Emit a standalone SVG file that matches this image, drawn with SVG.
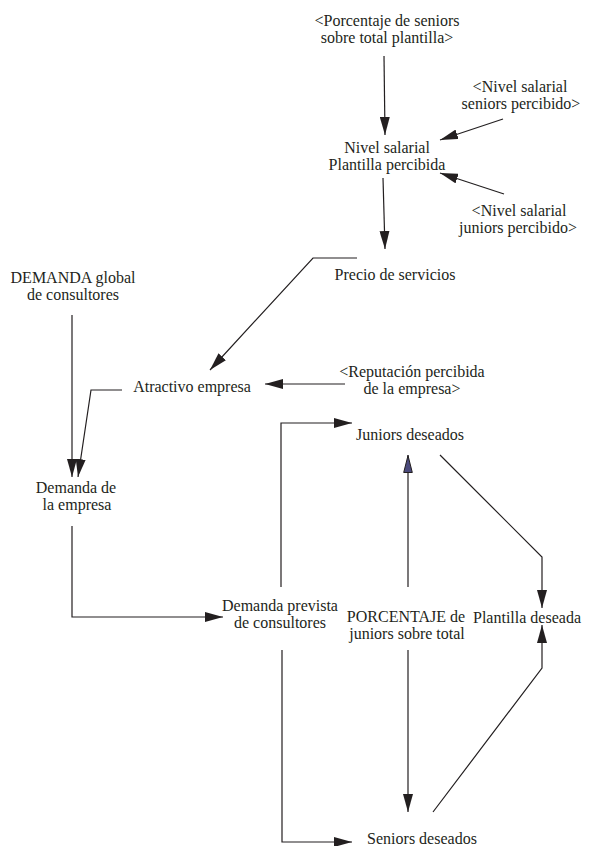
<svg xmlns="http://www.w3.org/2000/svg" width="589" height="846" viewBox="0 0 589 846">
<defs>
<style>
text{font-family:'Liberation Serif','DejaVu Serif',serif;font-size:16px;fill:#231f20;text-anchor:middle}
.c{fill:none;stroke:#231f20;stroke-width:1.2}
</style>
<marker id="ah" markerUnits="userSpaceOnUse" markerWidth="18" markerHeight="10" refX="18" refY="5" orient="auto">
<path d="M0,0 L18,5 L0,10 z" fill="#231f20"/>
</marker>
<marker id="ahb" markerUnits="userSpaceOnUse" markerWidth="18" markerHeight="10" refX="18" refY="5" orient="auto">
<path d="M0.5,0.7 L17.5,5 L0.5,9.3 z" fill="#4b4a7c" stroke="#231f20" stroke-width="1"/>
</marker>
</defs>
<rect width="589" height="846" fill="#fff"/>
<g id="connectors">
<path class="c" marker-end="url(#ah)" d="M384,56 L385,135"/>
<path class="c" marker-end="url(#ah)" d="M503,119 L440,140"/>
<path class="c" marker-end="url(#ah)" d="M504,194 L440,173"/>
<path class="c" marker-end="url(#ah)" d="M383,178 L385,249"/>
<path class="c" marker-end="url(#ah)" d="M357,258 L313,258 L210,370"/>
<path class="c" marker-end="url(#ah)" d="M72,315 L72,477"/>
<path class="c" marker-end="url(#ah)" d="M122,390 L91,390 L78,477"/>
<path class="c" marker-end="url(#ah)" d="M345,384 L265,384"/>
<path class="c" marker-end="url(#ah)" d="M281,587 L281,423 L352,423"/>
<path class="c" marker-end="url(#ahb)" d="M408,587 L408,455"/>
<path class="c" marker-end="url(#ah)" d="M440,455 L542,557 L542,608"/>
<path class="c" marker-end="url(#ah)" d="M72,526 L72,617 L223,617"/>
<path class="c" marker-end="url(#ah)" d="M282,650 L282,842 L352,842"/>
<path class="c" marker-end="url(#ah)" d="M408,650 L408,812"/>
<path class="c" marker-end="url(#ah)" d="M433,812 L542,668 L542,625"/>
</g>
<g id="porcentaje-seniors" font-family="Liberation Serif, serif"><text x="387" y="26">&lt;Porcentaje de seniors</text><text x="387" y="43">sobre total plantilla&gt;</text></g>
<g id="nivel-seniors"><text x="520" y="92">&lt;Nivel salarial</text><text x="521" y="109">seniors percibido&gt;</text></g>
<g id="nivel-plantilla"><text x="387" y="153">Nivel salarial</text><text x="387" y="170">Plantilla percibida</text></g>
<g id="nivel-juniors"><text x="519" y="216">&lt;Nivel salarial</text><text x="518" y="233">juniors percibido&gt;</text></g>
<g id="precio"><text x="395" y="280">Precio de servicios</text></g>
<g id="demanda-global"><text x="73" y="283">DEMANDA global</text><text x="73" y="300">de consultores</text></g>
<g id="atractivo"><text x="192" y="392">Atractivo empresa</text></g>
<g id="reputacion"><text x="412" y="377">&lt;Reputación percibida</text><text x="412" y="394">de la empresa&gt;</text></g>
<g id="juniors-deseados"><text x="410" y="440">Juniors deseados</text></g>
<g id="demanda-empresa"><text x="76" y="493">Demanda de</text><text x="77" y="510">la empresa</text></g>
<g id="demanda-prevista"><text x="280" y="611">Demanda prevista</text><text x="280" y="628">de consultores</text></g>
<g id="porcentaje-juniors"><text x="406" y="622">PORCENTAJE de</text><text x="407" y="639">juniors sobre total</text></g>
<g id="plantilla-deseada"><text x="527" y="623">Plantilla deseada</text></g>
<g id="seniors-deseados"><text x="422" y="844">Seniors deseados</text></g>
</svg>
